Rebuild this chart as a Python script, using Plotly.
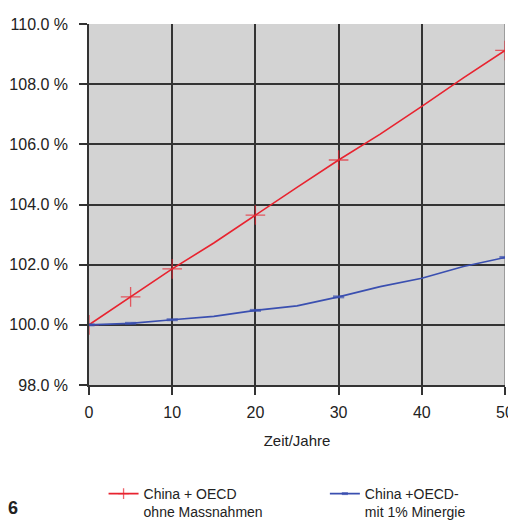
import plotly.graph_objects as go

years = [0, 5, 10, 15, 20, 25, 30, 35, 40, 45, 50]
red_vals = [100.0, 100.93, 101.86, 102.72, 103.65, 104.57, 105.48, 106.34, 107.26, 108.21, 109.12]
red_marked = [True, True, True, False, True, False, True, False, False, False, True]
blue_vals = [100.0, 100.05, 100.17, 100.28, 100.48, 100.63, 100.93, 101.27, 101.55, 101.94, 102.24]
blue_marked = [True, True, True, False, True, False, True, False, False, False, True]

red_name = "China + OECD<br>ohne Massnahmen"
blue_name = "China +OECD-<br>mit 1% Minergie"
x_title = "Zeit/Jahre"
y_ticks = [98, 100, 102, 104, 106, 108, 110]
y_tick_text = ["%.1f %%" % v for v in y_ticks]
x_ticks = [0, 10, 20, 30, 40, 50]

font_fam = "Liberation Sans Narrow, Arial Narrow, Liberation Sans, Arial, sans-serif"
red = "#e8232f"
blue = "#3a4fb0"

fig = go.Figure()
fig.add_trace(go.Scatter(
    x=years, y=red_vals, name=red_name, mode="lines+markers", legend="legend",
    line=dict(color=red, width=1.6),
    marker=dict(symbol="cross-thin", size=[14 if m else 0 for m in red_marked],
                line=dict(color=red, width=1.3), color=red),
))
fig.add_trace(go.Scatter(
    x=years, y=blue_vals, name=blue_name, mode="lines+markers", legend="legend2",
    line=dict(color=blue, width=1.6),
    marker=dict(symbol="line-ew", size=[8 if m else 0 for m in blue_marked],
                line=dict(color=blue, width=3), color=blue),
))

fig.add_shape(type="line", xref="x", yref="paper", x0=50, x1=50, y0=0, y1=1,
              line=dict(color="#8a8a8a", width=1.5), layer="below")

fig.add_annotation(text="<b>6</b>", xref="paper", yref="paper", x=-0.2, y=-0.341,
                   xanchor="left", yanchor="middle", showarrow=False,
                   font=dict(family=font_fam, size=18, color="#222"))

leg_common = dict(orientation="v", xanchor="left", yanchor="top", valign="top",
                  font=dict(size=14, color="#222"), bgcolor="rgba(0,0,0,0)")

# page body has an 8px default margin, so the figure is sized to fit the window
fig.update_layout(
    width=508, height=520,
    margin=dict(l=81, r=11, t=16, b=143, autoexpand=False),
    paper_bgcolor="white", plot_bgcolor="#d3d3d3",
    font=dict(family=font_fam, size=16, color="#222"),
    showlegend=True,
    legend=dict(x=0.035, y=-0.2576, **leg_common),
    legend2=dict(x=0.567, y=-0.2576, **leg_common),
    xaxis=dict(range=[0, 50], tickvals=x_ticks, showgrid=True, gridcolor="#333",
               gridwidth=1.5, zeroline=False, showline=True, linecolor="#333",
               linewidth=1.5, ticks="outside", ticklen=8, tickwidth=1.5, tickcolor="#333",
               title=dict(text=x_title, font=dict(size=15), standoff=16),
               tickfont=dict(size=16), ticklabelstandoff=4, automargin=False),
    yaxis=dict(range=[98, 110], tickvals=y_ticks, ticktext=y_tick_text, showgrid=True,
               gridcolor="#333", gridwidth=1.5, zeroline=False, showline=True,
               linecolor="#333", linewidth=1.5, ticks="outside", ticklen=8,
               tickwidth=1.5, tickcolor="#333", tickfont=dict(size=16),
               ticklabelstandoff=8, automargin=False),
)

fig.write_html("out.html")
